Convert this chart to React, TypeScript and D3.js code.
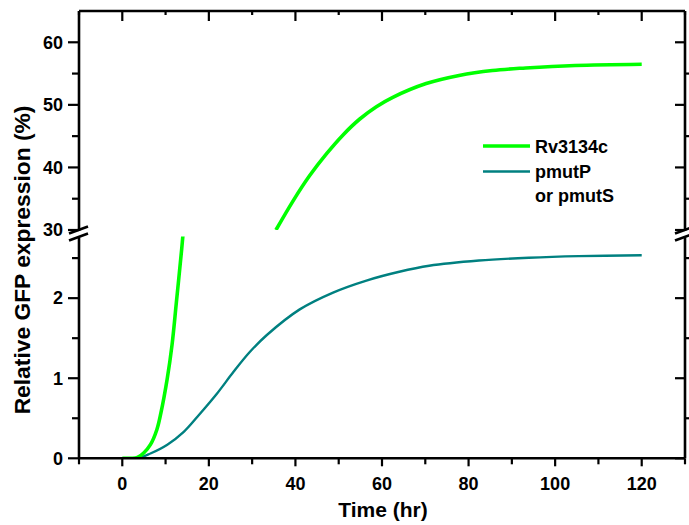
import React from "react";
import * as d3 from "d3";

// ---- data ----
const GREEN_LOW_T = [0, 2, 3.5, 5, 6.5, 8, 8.9, 10.4, 11.5, 12.5, 13.7, 14.2];
const GREEN_LOW_V = [0, 0, 0.01, 0.07, 0.17, 0.36, 0.56, 1.0, 1.42, 1.95, 2.6, 2.9];
const GREEN_HIGH_T = [35.5, 39.5, 43.3, 47.2, 51, 54.8, 58.7, 62.5, 70.2, 77.8, 85.5, 93.2, 104.6, 120];
const GREEN_HIGH_V = [30, 34.7, 38.7, 42.2, 45.2, 47.7, 49.7, 51.2, 53.4, 54.7, 55.5, 55.9, 56.3, 56.5];
const TEAL_T = [0, 3.5, 6.5, 10.4, 14.2, 18, 21.9, 25.7, 29.5, 33.4, 41, 48.7, 56.4, 64, 70.9, 82.4, 93.9, 105.4, 120];
const TEAL_V = [0, 0, 0.06, 0.17, 0.33, 0.56, 0.81, 1.08, 1.33, 1.54, 1.86, 2.07, 2.22, 2.33, 2.405, 2.47, 2.505, 2.525, 2.535];

const X_TICKS = [0, 20, 40, 60, 80, 100, 120];
const X_MINOR = [-10, 10, 30, 50, 70, 90, 110, 130];
const Y_LOW_TICKS = [0, 1, 2];
const Y_LOW_MINOR = [0.5, 1.5, 2.5];
const Y_HIGH_TICKS = [30, 40, 50, 60];
const Y_HIGH_MINOR = [35, 45, 55];
const LEGEND = ["Rv3134c", "pmutP"];
const LEGEND_EXTRA = "or pmutS";
const X_TITLE = "Time (hr)";
const Y_TITLE = "Relative GFP expression (%)";

const GREEN = "#00ff00";
const TEAL = "#008080";

export default function App() {
  const L = 79, R = 685, T = 11, B = 458.3;
  const upperBottom = 230, lowerTop = 236.5;
  const x = d3.scaleLinear().domain([-10, 130]).range([L, R]);
  const yLow = d3.scaleLinear().domain([0, 2.77]).range([B, lowerTop]);
  const yHigh = d3.scaleLinear().domain([30, 65]).range([upperBottom, T]);

  const curve = d3.curveCatmullRom.alpha(0.5);
  const lineLow = d3.line<[number, number]>().x(d => x(d[0])).y(d => yLow(d[1])).curve(curve);
  const lineHigh = d3.line<[number, number]>().x(d => x(d[0])).y(d => yHigh(d[1])).curve(curve);

  const gLow: [number, number][] = GREEN_LOW_T.map((t, i) => [t, GREEN_LOW_V[i]]);
  const gHigh: [number, number][] = GREEN_HIGH_T.map((t, i) => [t, GREEN_HIGH_V[i]]);
  const teal: [number, number][] = TEAL_T.map((t, i) => [t, TEAL_V[i]]);

  const font = "'Liberation Sans', Arial, sans-serif";
  const axW = 2.6;

  return (
    <svg width={689} height={525} style={{ position: "absolute", left: 0, top: 0, background: "#fff" }}>
      <defs>
        <clipPath id="clipLow"><rect x={L} y={lowerTop} width={R - L} height={B - lowerTop} /></clipPath>
        <clipPath id="clipHigh"><rect x={L} y={T} width={R - L} height={upperBottom - T} /></clipPath>
      </defs>
      <rect width={689} height={525} fill="#fff" />

      {/* curves */}
      <g clipPath="url(#clipLow)">
        <path d={lineLow(teal) || ""} fill="none" stroke={TEAL} strokeWidth={2.4} />
        <path d={lineLow(gLow) || ""} fill="none" stroke={GREEN} strokeWidth={3.6} />
      </g>
      <g clipPath="url(#clipHigh)">
        <path d={lineHigh(gHigh) || ""} fill="none" stroke={GREEN} strokeWidth={3.6} />
      </g>

      {/* frame */}
      <g stroke="#000" strokeWidth={axW} fill="none">
        <line x1={L} x2={R} y1={B} y2={B} />
        <line x1={L} x2={R} y1={T} y2={T} />
        <line x1={L} x2={L} y1={T} y2={upperBottom + 1} />
        <line x1={L} x2={L} y1={lowerTop + 1} y2={B} />
        <line x1={R} x2={R} y1={T} y2={upperBottom + 1} />
        <line x1={R} x2={R} y1={lowerTop + 1} y2={B} />
        {[L, R].map((ax, i) => (
          <g key={i}>
            <line x1={ax - 10} y1={upperBottom + 3.5} x2={ax + 9} y2={upperBottom - 3.5} />
            <line x1={ax - 10} y1={lowerTop + 4} x2={ax + 9} y2={lowerTop - 3} />
          </g>
        ))}
      </g>

      {/* ticks */}
      <g stroke="#000" strokeWidth={2.2}>
        {X_TICKS.map(v => (
          <g key={"xt" + v}>
            <line x1={x(v)} x2={x(v)} y1={B} y2={B + 8} />
            <line x1={x(v)} x2={x(v)} y1={T} y2={T + 10} />
          </g>
        ))}
        {X_MINOR.map(v => (
          <g key={"xm" + v}>
            <line x1={x(v)} x2={x(v)} y1={B} y2={B + 6} />
            <line x1={x(v)} x2={x(v)} y1={T} y2={T + 4} />
          </g>
        ))}
        {Y_LOW_TICKS.map(v => (
          <g key={"ylt" + v}>
            <line x1={L - 11} x2={L} y1={yLow(v)} y2={yLow(v)} />
            <line x1={R - 10} x2={R} y1={yLow(v)} y2={yLow(v)} />
          </g>
        ))}
        {Y_LOW_MINOR.map(v => (
          <g key={"ylm" + v}>
            <line x1={L - 7} x2={L} y1={yLow(v)} y2={yLow(v)} />
            <line x1={R} x2={R + 4} y1={yLow(v)} y2={yLow(v)} />
          </g>
        ))}
        {Y_HIGH_TICKS.map(v => (
          <g key={"yht" + v}>
            <line x1={L - 11} x2={L} y1={yHigh(v)} y2={yHigh(v)} />
            <line x1={R - 10} x2={R} y1={yHigh(v)} y2={yHigh(v)} />
          </g>
        ))}
        {Y_HIGH_MINOR.map(v => (
          <g key={"yhm" + v}>
            <line x1={L - 7} x2={L} y1={yHigh(v)} y2={yHigh(v)} />
            <line x1={R} x2={R + 4} y1={yHigh(v)} y2={yHigh(v)} />
          </g>
        ))}
      </g>

      {/* tick labels */}
      <g fontFamily={font} fontWeight="bold" fontSize={18} fill="#000">
        {X_TICKS.map(v => (
          <text key={"xl" + v} x={x(v)} y={490} textAnchor="middle">{v}</text>
        ))}
        {Y_LOW_TICKS.map(v => (
          <text key={"yll" + v} x={63} y={yLow(v)} dy="0.35em" textAnchor="end">{v}</text>
        ))}
        {Y_HIGH_TICKS.map(v => (
          <text key={"yhl" + v} x={63} y={yHigh(v)} dy="0.35em" textAnchor="end">{v}</text>
        ))}
      </g>

      {/* titles */}
      <text x={383} y={517} textAnchor="middle" fontFamily={font} fontWeight="bold" fontSize={21}>{X_TITLE}</text>
      <text transform="translate(30,260) rotate(-90)" textAnchor="middle" fontFamily={font} fontWeight="bold" fontSize={22.8}>{Y_TITLE}</text>

      {/* legend */}
      <g fontFamily={font} fontWeight="bold" fontSize={18}>
        <line x1={483} x2={530} y1={146} y2={146} stroke={GREEN} strokeWidth={3.6} />
        <line x1={483} x2={530} y1={171.5} y2={171.5} stroke={TEAL} strokeWidth={2.4} />
        <text x={535} y={152.5}>{LEGEND[0]}</text>
        <text x={535} y={177.5}>{LEGEND[1]}</text>
        <text x={535} y={202}>{LEGEND_EXTRA}</text>
      </g>
    </svg>
  );
}
